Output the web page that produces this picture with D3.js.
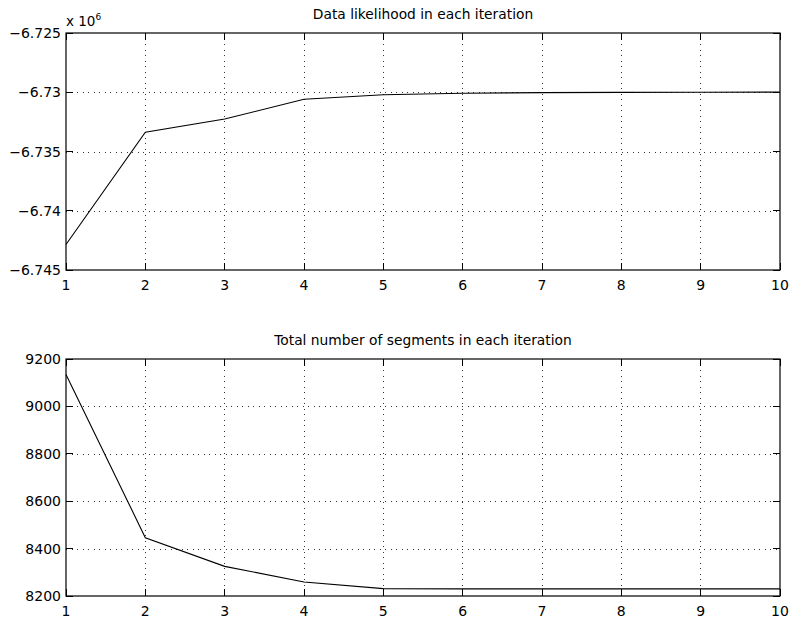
<!DOCTYPE html>
<html>
<head>
<meta charset="utf-8">
<script src="https://cdn.jsdelivr.net/npm/d3@7"></script>
<style>
  body { margin: 0; background: #fff; }
  text { font-family: "DejaVu Sans", "Liberation Sans", Arial, sans-serif; fill: #000; }
</style>
</head>
<body>
<div id="chart"></div>
<script>
// iterations on the x axis
var iterations = [1, 2, 3, 4, 5, 6, 7, 8, 9, 10];

// data likelihood per iteration (raw values, shown as x 10^6)
var likelihood = [-6742850, -6733380, -6732260, -6730590, -6730210,
                  -6730090, -6730030, -6730010, -6730000, -6729990];

// total number of segments per iteration
var segments = [9135, 8446, 8325, 8259, 8231, 8230, 8230, 8230, 8230, 8230];

// tick values
var xTicks = [1, 2, 3, 4, 5, 6, 7, 8, 9, 10];
var likeTicks = [-6745000, -6740000, -6735000, -6730000, -6725000];
var segTicks = [8200, 8400, 8600, 8800, 9000, 9200];

var svgWidth = 791;
var svgHeight = 622;

var svg = d3.select("#chart")
    .append("svg")
    .attr("width", svgWidth)
    .attr("height", svgHeight);

var left = 66, right = 780;

function drawPanel(opts) {
    var x = d3.scaleLinear().domain([1, 10]).range([left, right]);
    var y = d3.scaleLinear().domain(opts.domain).range([opts.bottom, opts.top]);
    var g = svg.append("g");
    var tickLen = 7;

    // grid lines
    g.selectAll(".vgrid")
        .data(xTicks.slice(1, -1))
        .enter().append("line")
        .attr("x1", d => x(d)).attr("x2", d => x(d))
        .attr("y1", opts.top).attr("y2", opts.bottom)
        .attr("stroke", "#333")
        .attr("stroke-width", 1)
        .attr("stroke-dasharray", "1,4.5")
        .attr("shape-rendering", "crispEdges");

    g.selectAll(".hgrid")
        .data(opts.ticks.slice(1, -1))
        .enter().append("line")
        .attr("x1", left).attr("x2", right)
        .attr("y1", d => Math.round(y(d)) + 0.5).attr("y2", d => Math.round(y(d)) + 0.5)
        .attr("stroke", "#333")
        .attr("stroke-width", 1)
        .attr("stroke-dasharray", "1,4.5")
        .attr("shape-rendering", "crispEdges");

    // inward ticks on all four sides
    xTicks.forEach(function(t) {
        g.append("line")
            .attr("x1", x(t)).attr("x2", x(t))
            .attr("y1", opts.bottom).attr("y2", opts.bottom - tickLen)
            .attr("stroke", "#000").attr("shape-rendering", "crispEdges");
        g.append("line")
            .attr("x1", x(t)).attr("x2", x(t))
            .attr("y1", opts.top).attr("y2", opts.top + tickLen)
            .attr("stroke", "#000").attr("shape-rendering", "crispEdges");
    });
    opts.ticks.forEach(function(t) {
        g.append("line")
            .attr("x1", left).attr("x2", left + tickLen)
            .attr("y1", y(t)).attr("y2", y(t))
            .attr("stroke", "#000").attr("shape-rendering", "crispEdges");
        g.append("line")
            .attr("x1", right).attr("x2", right - tickLen)
            .attr("y1", y(t)).attr("y2", y(t))
            .attr("stroke", "#000").attr("shape-rendering", "crispEdges");
    });

    // axes box
    g.append("rect")
        .attr("x", left).attr("y", opts.top)
        .attr("width", right - left).attr("height", opts.bottom - opts.top)
        .attr("fill", "none")
        .attr("stroke", "#000")
        .attr("stroke-width", 1.2);

    // tick labels
    g.selectAll(".xlab")
        .data(xTicks)
        .enter().append("text")
        .attr("x", d => x(d))
        .attr("y", opts.bottom + 20)
        .attr("text-anchor", "middle")
        .style("font-size", "14px")
        .text(d => d);

    g.selectAll(".ylab")
        .data(opts.ticks)
        .enter().append("text")
        .attr("x", left - 5)
        .attr("y", d => y(d) + 5)
        .attr("text-anchor", "end")
        .style("font-size", "14px")
        .text(opts.format);

    // title
    g.append("text")
        .attr("x", (left + right) / 2)
        .attr("y", opts.top - 14)
        .attr("text-anchor", "middle")
        .style("font-size", "13.8px")
        .text(opts.title);

    // data line
    var line = d3.line()
        .x((d, i) => x(iterations[i]))
        .y(d => y(d));

    g.append("path")
        .datum(opts.values)
        .attr("d", line)
        .attr("fill", "none")
        .attr("stroke", "#000")
        .attr("stroke-width", 1.1);

    return g;
}

var top1 = drawPanel({
    top: 33, bottom: 270,
    domain: [-6745000, -6725000],
    ticks: likeTicks,
    values: likelihood,
    format: d => d3.format("")(d / 1e6).replace("-", "\u2013"),
    title: "Data likelihood in each iteration"
});

// exponent label
var expLabel = top1.append("text")
    .attr("x", left)
    .attr("y", 26)
    .style("font-size", "13.5px");
expLabel.append("tspan").text("x 10");
expLabel.append("tspan")
    .attr("dy", -6)
    .style("font-size", "9px")
    .text("6");

drawPanel({
    top: 359, bottom: 596,
    domain: [8200, 9200],
    ticks: segTicks,
    values: segments,
    format: d => d,
    title: "Total number of segments in each iteration"
});
</script>
</body>
</html>
